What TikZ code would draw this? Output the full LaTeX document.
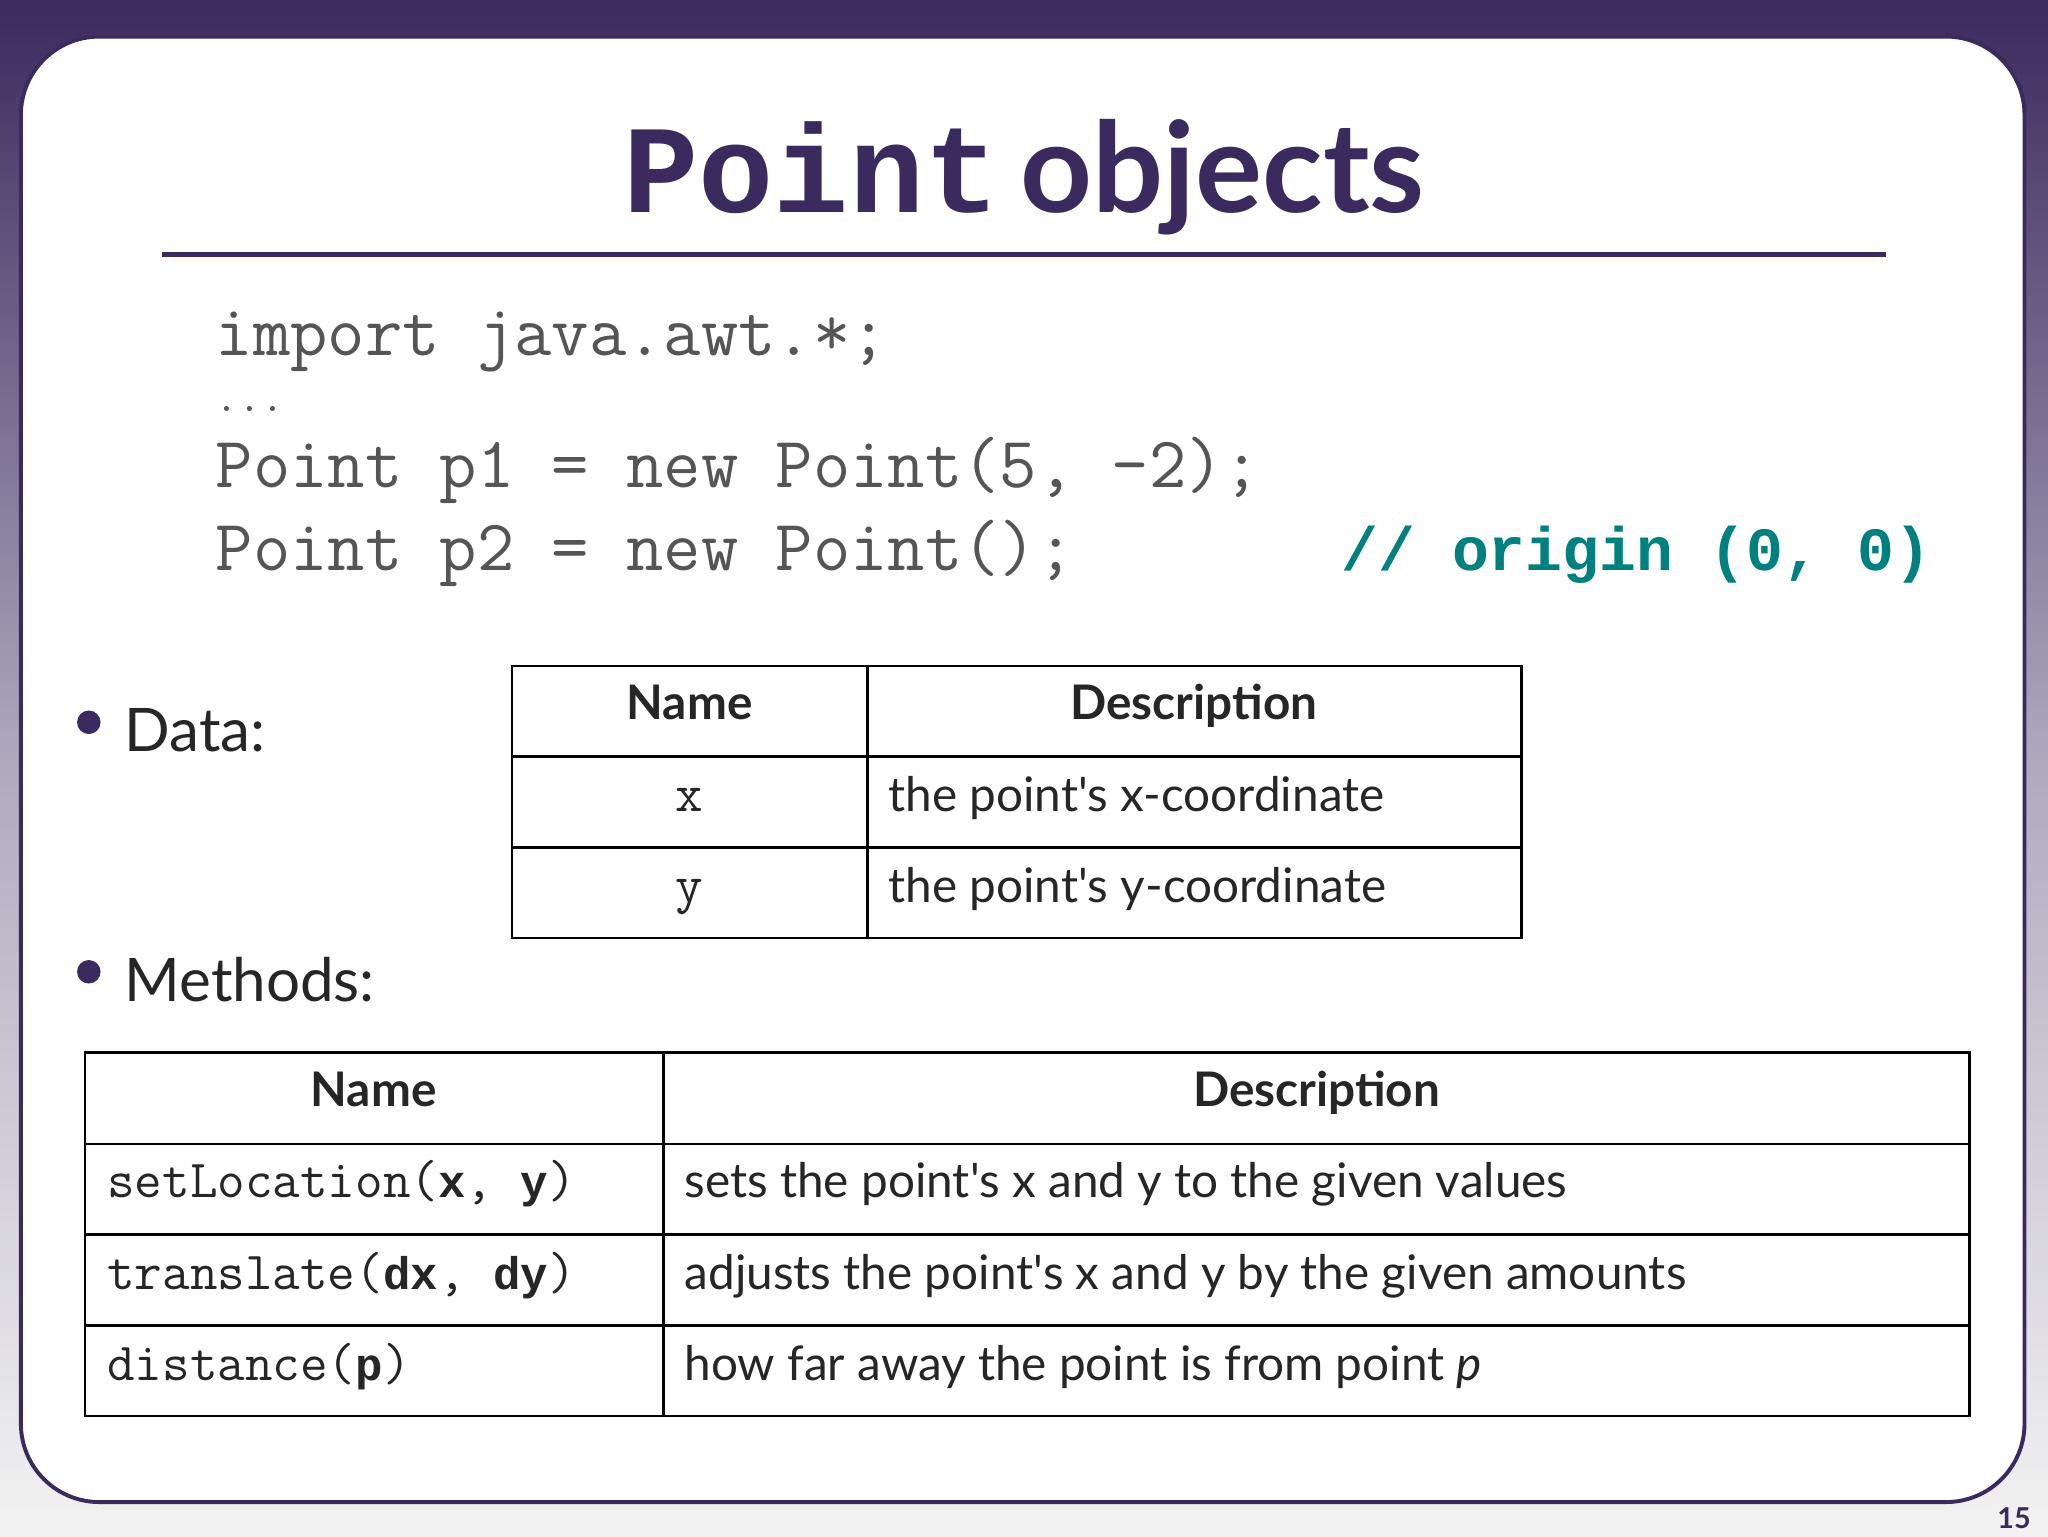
\documentclass[tikz,border=0pt]{standalone}
\usepackage{fontspec}
\setmainfont{Lato}
\newfontfamily\libmono{Liberation Mono}
\definecolor{purp}{HTML}{3B2A5E}
\definecolor{code}{HTML}{555555}
\definecolor{teal2}{HTML}{00807F}
\newcommand\bm[1]{{\fontsize{35}{40}\selectfont\libmono\bfseries #1}}
\newcommand\q{\textquotesingle}
\begin{document}
\begin{tikzpicture}[x=1pt,y=-1pt,
  cell/.style={draw=black,line width=2pt},
  txt/.style={font=\fontsize{36.5}{40}\selectfont,anchor=base,text=black!85},
  ttx/.style={font=\fontsize{41}{44}\selectfont\ttfamily},
  codel/.style={font=\fontsize{55.5}{58}\selectfont\ttfamily,anchor=base west,text=code,inner sep=0}]
\useasboundingbox (0,0) rectangle (1568,1176);
\shade[top color=purp,bottom color=gray!10,middle color=purp!40] (0,0) rectangle (1568,1176);
\fill[white,draw=purp,line width=3pt,rounded corners=60pt] (16,28) rectangle (1550,1150);
\node[anchor=base,text=purp,inner sep=0] (title) at (784,163)
 {\fontsize{96}{98}\selectfont\bfseries{\libmono Point}\,objects};
\draw[purp,line width=4pt] (124,195) -- (1444,195);
\node[codel] (c1) at (165,272) {import java.awt.*;};
\node[codel,font=\fontsize{34}{34}\selectfont\ttfamily] (c2) at (165,315) {...};
\node[codel] (c3) at (165,373) {Point p1 = new Point(5, -2);};
\node[codel] (c4) at (165,437) {Point p2 = new Point();};
\node[codel,text=teal2,font=\fontsize{47}{50}\selectfont\libmono\bfseries] (c5) at (1027,437) {// origin (0, 0)};
\fill[purp] (68,553) circle (9);
\node[anchor=base west,font=\fontsize{46}{50}\selectfont,text=black!85] (data) at (92,575) {Data:};
\fill[purp] (68,744) circle (9);
\node[anchor=base west,font=\fontsize{46}{50}\selectfont,text=black!85] (meth) at (92,767) {Methods:};
% table 1
\draw[cell] (392,510) rectangle (1165,718);
\draw[cell] (664,510) -- (664,718) (392,579) -- (1165,579) (392,649) -- (1165,649);
\node[txt] (h1) at (528,551) {\bfseries Name};
\node[txt] (h2) at (914,551) {\bfseries Description};
\node[txt,ttx] (x) at (528,621) {x};
\node[txt,ttx] (y) at (528,691) {y};
\node[txt,anchor=base west,inner sep=0] (dx) at (680,621) {the point\q s x-coordinate};
\node[txt,anchor=base west,inner sep=0] (dy) at (680,691) {the point\q s y-coordinate};
% table 2
\draw[cell] (65,806) rectangle (1508,1084);
\draw[cell] (508,806) -- (508,1084) (65,876) -- (1508,876) (65,945) -- (1508,945) (65,1015) -- (1508,1015);
\node[txt] (H1) at (286,847) {\bfseries Name};
\node[txt] (H2) at (1008,847) {\bfseries Description};
\node[txt,anchor=base west,ttx,inner sep=0] (m1) at (82,917) {setLocation(\bm{x}, \bm{y})};
\node[txt,anchor=base west,ttx,inner sep=0] (m2) at (82,987) {translate(\bm{dx}, \bm{dy})};
\node[txt,anchor=base west,ttx,inner sep=0] (m3) at (82,1057) {distance(\bm{p})};
\node[txt,anchor=base west,inner sep=0] (d1) at (524,917) {sets the point\q s x and y to the given values};
\node[txt,anchor=base west,inner sep=0] (d2) at (524,987) {adjusts the point\q s x and y by the given amounts};
\node[txt,anchor=base west,inner sep=0] (d3) at (524,1057) {how far away the point is from point \textit{p}};
\node[anchor=base east,font=\fontsize{22}{22}\selectfont\bfseries,text=purp,inner sep=0] (pg) at (1555,1170) {15};
\end{tikzpicture}
\end{document}
